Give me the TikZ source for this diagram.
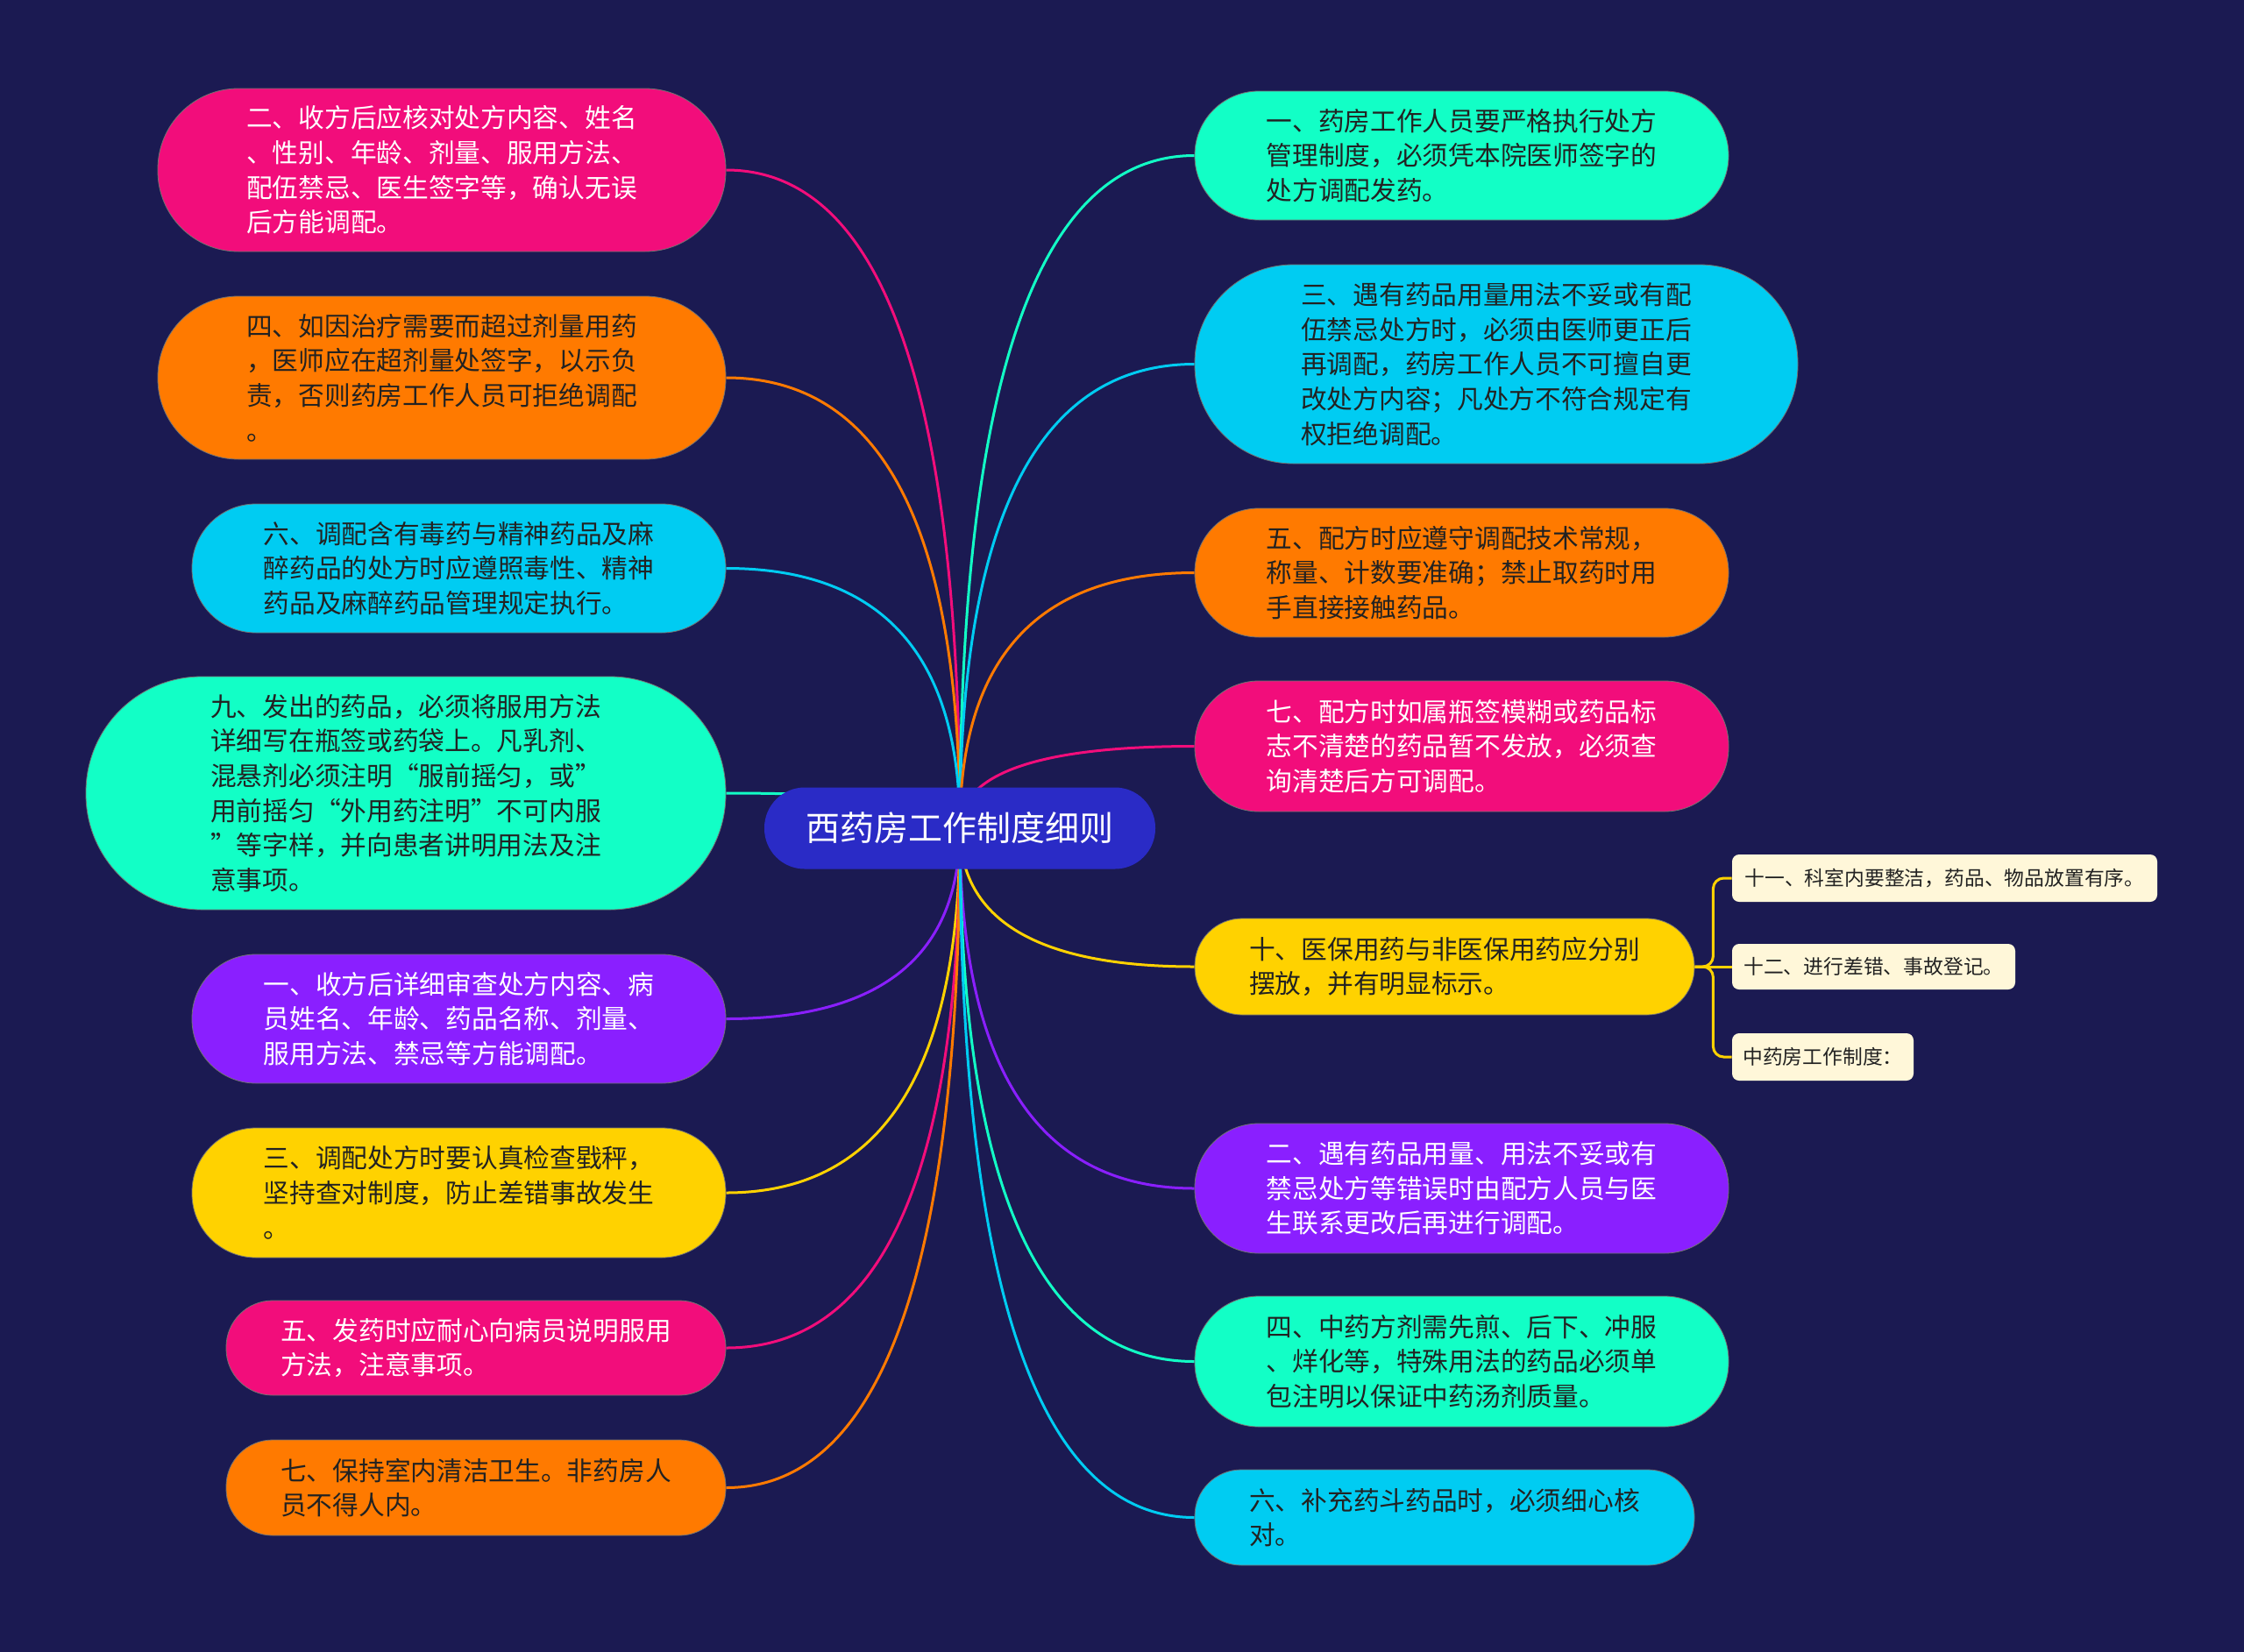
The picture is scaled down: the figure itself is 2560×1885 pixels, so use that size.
\documentclass[tikz,border=0pt]{standalone}
\usepackage{fontspec}
\setmainfont{Noto Sans CJK SC}
\usetikzlibrary{calc}
\pgfdeclarelayer{bgl}
\pgfsetlayers{bgl,main}
\definecolor{bgc}{HTML}{1B1A52}
\definecolor{cpink}{HTML}{F20D7B}
\definecolor{corange}{HTML}{FF7A00}
\definecolor{ccyan}{HTML}{00CCF2}
\definecolor{cgreen}{HTML}{12FFC6}
\definecolor{cpurple}{HTML}{8A1FFF}
\definecolor{cyellow}{HTML}{FFD200}
\definecolor{ccenter}{HTML}{2A2BC6}
\definecolor{ccream}{HTML}{FFF7D9}
\definecolor{dtext}{HTML}{222222}
\begin{document}
\begin{tikzpicture}[x=0.5pt,y=-0.5pt,
  box/.style={rectangle, inner sep=0pt, align=left, draw=black!55, line width=0.4pt,
    font=\fontsize{14.85pt}{19.85pt}\selectfont},
  dk/.style={text=dtext},
  wt/.style={text=white},
  small/.style={rectangle, inner sep=0pt, align=left, fill=ccream, text=dtext, rounded corners=4pt,
    font=\fontsize{11.4pt}{14pt}\selectfont},
  qc/.style={to path={.. controls ($(\tikztostart)!0.6667!(\tikztostart|-\tikztotarget)$) and ($(\tikztotarget)!0.6667!(\tikztostart|-\tikztotarget)$) .. (\tikztotarget)}},
  conn/.style={line width=1.5pt, qc},
  brk/.style={line width=1.5pt, cyellow, rounded corners=6pt},
]
\useasboundingbox (0,0) rectangle (2560,1885);

% central node
\node[rectangle, inner sep=0pt, fill=ccenter, text=white, rounded corners=23pt,
  minimum width=223pt, minimum height=46.5pt,
  font=\fontsize{19.5pt}{24pt}\selectfont] (C) at (1095,945) {西药房工作制度细则};

% left nodes
\node[box, fill=cpink, wt, minimum width=324pt, minimum height=93pt, rounded corners=46pt] (L1) at (504,194)
  {二、收方后应核对处方内容、姓名\\、性别、年龄、剂量、服用方法、\\配伍禁忌、医生签字等，确认无误\\后方能调配。};
\node[box, fill=corange, dk, minimum width=324pt, minimum height=93pt, rounded corners=46pt] (L2) at (504,431)
  {四、如因治疗需要而超过剂量用药\\，医师应在超剂量处签字，以示负\\责，否则药房工作人员可拒绝调配\\。};
\node[box, fill=ccyan, dk, minimum width=304.5pt, minimum height=73.5pt, rounded corners=36.5pt] (L3) at (523.5,648.5)
  {六、调配含有毒药与精神药品及麻\\醉药品的处方时应遵照毒性、精神\\药品及麻醉药品管理规定执行。};
\node[box, fill=cgreen, dk, minimum width=365pt, minimum height=133pt, rounded corners=66pt] (L4) at (463,905)
  {九、发出的药品，必须将服用方法\\详细写在瓶签或药袋上。凡乳剂、\\混悬剂必须注明“服前摇匀，或”\\用前摇匀“外用药注明”不可内服\\”等字样，并向患者讲明用法及注\\意事项。};
\node[box, fill=cpurple, wt, minimum width=304.5pt, minimum height=73.5pt, rounded corners=36.5pt] (L5) at (523.5,1162.5)
  {一、收方后详细审查处方内容、病\\员姓名、年龄、药品名称、剂量、\\服用方法、禁忌等方能调配。};
\node[box, fill=cyellow, dk, minimum width=304.5pt, minimum height=74pt, rounded corners=36.5pt] (L6) at (523.5,1361)
  {三、调配处方时要认真检查戥秤，\\坚持查对制度，防止差错事故发生\\。};
\node[box, fill=cpink, wt, minimum width=285pt, minimum height=54pt, rounded corners=26.5pt] (L7) at (543,1538)
  {五、发药时应耐心向病员说明服用\\方法，注意事项。};
\node[box, fill=corange, dk, minimum width=285pt, minimum height=54.5pt, rounded corners=26.5pt] (L8) at (543,1697.5)
  {七、保持室内清洁卫生。非药房人\\员不得人内。};

% right nodes
\node[box, fill=cgreen, dk, minimum width=304.5pt, minimum height=73.5pt, rounded corners=36.5pt] (R1) at (1667.5,177.5)
  {一、药房工作人员要严格执行处方\\管理制度，必须凭本院医师签字的\\处方调配发药。};
\node[box, fill=ccyan, dk, minimum width=344pt, minimum height=113.5pt, rounded corners=56pt] (R2) at (1707,415.5)
  {三、遇有药品用量用法不妥或有配\\伍禁忌处方时，必须由医师更正后\\再调配，药房工作人员不可擅自更\\改处方内容；凡处方不符合规定有\\权拒绝调配。};
\node[box, fill=corange, dk, minimum width=304.5pt, minimum height=73.5pt, rounded corners=36.5pt] (R3) at (1667.5,653.5)
  {五、配方时应遵守调配技术常规，\\称量、计数要准确；禁止取药时用\\手直接接触药品。};
\node[box, fill=cpink, wt, minimum width=304.5pt, minimum height=74.5pt, rounded corners=36.5pt] (R4) at (1667.5,851.5)
  {七、配方时如属瓶签模糊或药品标\\志不清楚的药品暂不发放，必须查\\询清楚后方可调配。};
\node[box, fill=cyellow, dk, minimum width=285pt, minimum height=55pt, rounded corners=27pt] (R5) at (1648,1103)
  {十、医保用药与非医保用药应分别\\摆放，并有明显标示。};
\node[box, fill=cpurple, wt, minimum width=304.5pt, minimum height=74pt, rounded corners=36.5pt] (R6) at (1667.5,1356)
  {二、遇有药品用量、用法不妥或有\\禁忌处方等错误时由配方人员与医\\生联系更改后再进行调配。};
\node[box, fill=cgreen, dk, minimum width=304.5pt, minimum height=74.5pt, rounded corners=36.5pt] (R7) at (1667.5,1553.5)
  {四、中药方剂需先煎、后下、冲服\\、烊化等，特殊用法的药品必须单\\包注明以保证中药汤剂质量。};
\node[box, fill=ccyan, dk, minimum width=285pt, minimum height=54.5pt, rounded corners=26.5pt] (R8) at (1648,1731.5)
  {六、补充药斗药品时，必须细心核\\对。};

% small nodes
\node[small, minimum width=242.5pt, minimum height=27pt] (S1) at (2218.5,1002) {十一、科室内要整洁，药品、物品放置有序。};
\node[small, minimum width=161.5pt, minimum height=26pt] (S2) at (2137.5,1103) {十二、进行差错、事故登记。};
\node[small, minimum width=103.5pt, minimum height=27pt] (S3) at (2079.5,1206) {中药房工作制度：};

\begin{pgfonlayer}{bgl}
\fill[bgc] (0,0) rectangle (2560,1885);
\draw[conn, cpink]   (C.center) to (L1.east);
\draw[conn, corange] (C.center) to (L2.east);
\draw[conn, ccyan]   (C.center) to (L3.east);
\draw[conn, cgreen]  (C.center) to (L4.east);
\draw[conn, cpurple] (C.center) to (L5.east);
\draw[conn, cyellow] (C.center) to (L6.east);
\draw[conn, cpink]   (C.center) to (L7.east);
\draw[conn, corange] (C.center) to (L8.east);
\draw[conn, cgreen]  (C.center) to (R1.west);
\draw[conn, ccyan]   (C.center) to (R2.west);
\draw[conn, corange] (C.center) to (R3.west);
\draw[conn, cpink]   (C.center) to (R4.west);
\draw[conn, cyellow] (C.center) to (R5.west);
\draw[conn, cpurple] (C.center) to (R6.west);
\draw[conn, cgreen]  (C.center) to (R7.west);
\draw[conn, ccyan]   (C.center) to (R8.west);
\draw[brk] (R5.east) -- ++(21,0) |- (S1.west);
\draw[brk] (R5.east) -- ++(21,0) |- (S3.west);
\draw[brk] (R5.east) -- (S2.west);
\end{pgfonlayer}
\end{tikzpicture}
\end{document}
